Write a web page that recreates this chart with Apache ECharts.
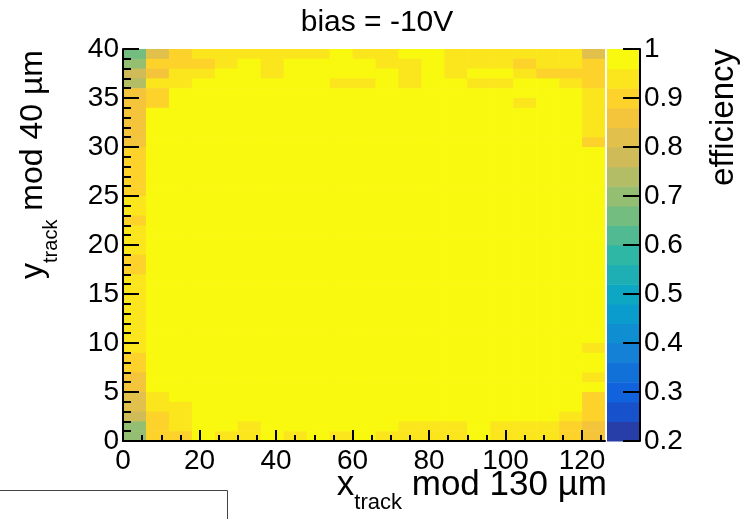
<!DOCTYPE html>
<html>
<head>
<meta charset="utf-8">
<script src="https://cdn.jsdelivr.net/npm/echarts@6/dist/echarts.min.js"></script>
<style>
  html, body { margin: 0; padding: 0; background: #fff; }
  #chart { width: 748px; height: 519px; }
</style>
</head>
<body>
<div id="chart"></div>
<script>
// Lower edges of the x bins (µm) and their width
const xBinLow = [0, 6, 12, 18, 24, 30, 36, 42, 48, 54, 60, 66, 72, 78, 84, 90, 96, 102, 108, 114, 120];
const xBinWidth = 6;
// Lower edges of the y bins (µm), in the same order as the rows below (top row first)
const yBinLow = [39, 38, 37, 36, 35, 34, 33, 32, 31, 30, 29, 28, 27, 26, 25, 24, 23, 22, 21, 20,
                 19, 18, 17, 16, 15, 14, 13, 12, 11, 10, 9, 8, 7, 6, 5, 4, 3, 2, 1, 0];
const yBinWidth = 1;

// Efficiency per cell, one row per y bin
const efficiencyRows = [
  [0.66, 0.80, 0.89, 0.93, 0.94, 0.94, 0.94, 0.93, 0.94, 0.97, 0.94, 0.95, 0.97, 0.98, 0.94, 0.93, 0.94, 0.94, 0.94, 0.93, 0.83],
  [0.70, 0.90, 0.89, 0.90, 0.93, 0.98, 0.94, 0.98, 0.97, 0.98, 0.98, 0.94, 0.93, 0.98, 0.94, 0.93, 0.94, 0.90, 0.94, 0.93, 0.89],
  [0.78, 0.86, 0.94, 0.94, 0.98, 0.98, 0.94, 0.98, 0.98, 0.99, 0.98, 0.98, 0.94, 0.98, 0.94, 0.98, 0.98, 0.94, 0.90, 0.90, 0.90],
  [0.74, 0.94, 0.94, 0.98, 0.98, 0.99, 0.98, 0.98, 0.98, 0.94, 0.94, 0.98, 0.94, 0.98, 0.98, 0.94, 0.94, 0.98, 0.98, 0.94, 0.90],
  [0.86, 0.90, 0.98, 0.99, 0.98, 0.98, 0.99, 0.98, 0.98, 0.98, 0.99, 0.98, 0.98, 0.99, 0.98, 0.98, 0.98, 0.98, 0.99, 0.98, 0.94],
  [0.86, 0.90, 0.98, 0.98, 0.99, 0.98, 0.98, 0.99, 0.98, 0.98, 0.98, 0.99, 0.98, 0.98, 0.98, 0.99, 0.98, 0.94, 0.98, 0.98, 0.94],
  [0.87, 0.97, 0.98, 0.99, 0.98, 0.98, 0.98, 0.99, 0.98, 0.99, 0.98, 0.98, 0.98, 0.99, 0.98, 0.98, 0.99, 0.98, 0.98, 0.98, 0.94],
  [0.87, 0.98, 0.98, 0.98, 0.99, 0.98, 0.99, 0.98, 0.98, 0.98, 0.99, 0.98, 0.99, 0.98, 0.98, 0.98, 0.98, 0.99, 0.98, 0.97, 0.94],
  [0.88, 0.98, 0.99, 0.98, 0.98, 0.98, 0.98, 0.99, 0.99, 0.98, 0.98, 0.98, 0.98, 0.98, 0.99, 0.98, 0.98, 0.98, 0.98, 0.98, 0.94],
  [0.88, 0.98, 0.98, 0.98, 0.99, 0.99, 0.98, 0.98, 0.98, 0.98, 0.98, 0.99, 0.98, 0.98, 0.98, 0.99, 0.98, 0.98, 0.99, 0.98, 0.90],
  [0.89, 0.98, 0.98, 0.99, 0.98, 0.98, 0.98, 0.98, 0.99, 0.98, 0.99, 0.98, 0.98, 0.98, 0.98, 0.98, 0.99, 0.98, 0.98, 0.98, 0.97],
  [0.90, 0.98, 0.99, 0.98, 0.98, 0.98, 0.99, 0.98, 0.98, 0.98, 0.98, 0.98, 0.99, 0.98, 0.98, 0.98, 0.98, 0.98, 0.98, 0.99, 0.98],
  [0.90, 0.97, 0.98, 0.98, 0.98, 0.99, 0.98, 0.98, 0.98, 0.99, 0.98, 0.98, 0.98, 0.98, 0.99, 0.98, 0.98, 0.99, 0.98, 0.98, 0.98],
  [0.90, 0.98, 0.98, 0.98, 0.98, 0.98, 0.98, 0.99, 0.98, 0.98, 0.98, 0.99, 0.98, 0.98, 0.98, 0.98, 0.98, 0.98, 0.98, 0.98, 0.97],
  [0.91, 0.98, 0.98, 0.99, 0.98, 0.98, 0.98, 0.98, 0.98, 0.98, 0.99, 0.98, 0.98, 0.98, 0.98, 0.99, 0.98, 0.98, 0.99, 0.98, 0.98],
  [0.93, 0.98, 0.98, 0.98, 0.98, 0.99, 0.98, 0.98, 0.99, 0.98, 0.98, 0.98, 0.98, 0.99, 0.98, 0.98, 0.98, 0.98, 0.98, 0.98, 0.98],
  [0.93, 0.98, 0.99, 0.98, 0.98, 0.98, 0.98, 0.98, 0.98, 0.98, 0.98, 0.98, 0.99, 0.98, 0.98, 0.98, 0.99, 0.98, 0.98, 0.98, 0.97],
  [0.91, 0.98, 0.98, 0.98, 0.99, 0.98, 0.98, 0.99, 0.98, 0.98, 0.98, 0.98, 0.98, 0.98, 0.98, 0.98, 0.98, 0.98, 0.99, 0.98, 0.98],
  [0.93, 0.98, 0.98, 0.98, 0.98, 0.98, 0.99, 0.98, 0.98, 0.99, 0.98, 0.98, 0.98, 0.98, 0.99, 0.98, 0.98, 0.98, 0.98, 0.98, 0.98],
  [0.93, 0.98, 0.98, 0.99, 0.98, 0.98, 0.98, 0.98, 0.98, 0.98, 0.98, 0.99, 0.98, 0.98, 0.98, 0.98, 0.98, 0.99, 0.98, 0.98, 0.98],
  [0.94, 0.99, 0.98, 0.98, 0.98, 0.98, 0.98, 0.98, 0.99, 0.98, 0.98, 0.98, 0.98, 0.98, 0.98, 0.99, 0.98, 0.98, 0.98, 0.98, 0.97],
  [0.90, 0.98, 0.98, 0.98, 0.98, 0.99, 0.98, 0.98, 0.98, 0.98, 0.99, 0.98, 0.98, 0.98, 0.98, 0.98, 0.98, 0.98, 0.99, 0.98, 0.98],
  [0.90, 0.98, 0.99, 0.98, 0.98, 0.98, 0.98, 0.99, 0.98, 0.98, 0.98, 0.98, 0.99, 0.98, 0.98, 0.98, 0.98, 0.98, 0.98, 0.98, 0.98],
  [0.93, 0.98, 0.98, 0.98, 0.99, 0.98, 0.98, 0.98, 0.98, 0.99, 0.98, 0.98, 0.98, 0.98, 0.99, 0.98, 0.98, 0.98, 0.98, 0.99, 0.98],
  [0.94, 0.98, 0.98, 0.98, 0.98, 0.98, 0.99, 0.98, 0.98, 0.98, 0.98, 0.99, 0.98, 0.98, 0.98, 0.98, 0.99, 0.98, 0.98, 0.98, 0.97],
  [0.93, 0.99, 0.98, 0.98, 0.98, 0.98, 0.98, 0.98, 0.99, 0.98, 0.98, 0.98, 0.98, 0.99, 0.98, 0.98, 0.98, 0.98, 0.98, 0.98, 0.98],
  [0.94, 0.98, 0.98, 0.99, 0.98, 0.98, 0.98, 0.98, 0.98, 0.98, 0.99, 0.98, 0.98, 0.98, 0.98, 0.98, 0.98, 0.99, 0.98, 0.98, 0.98],
  [0.93, 0.98, 0.98, 0.98, 0.98, 0.99, 0.98, 0.98, 0.98, 0.98, 0.98, 0.98, 0.99, 0.98, 0.98, 0.98, 0.98, 0.98, 0.98, 0.99, 0.97],
  [0.94, 0.98, 0.99, 0.98, 0.98, 0.98, 0.98, 0.99, 0.98, 0.98, 0.98, 0.98, 0.98, 0.98, 0.99, 0.98, 0.98, 0.98, 0.98, 0.98, 0.98],
  [0.93, 0.98, 0.98, 0.98, 0.99, 0.98, 0.98, 0.98, 0.98, 0.99, 0.98, 0.98, 0.98, 0.98, 0.98, 0.99, 0.98, 0.98, 0.98, 0.98, 0.97],
  [0.94, 0.98, 0.98, 0.98, 0.98, 0.98, 0.99, 0.98, 0.98, 0.98, 0.98, 0.99, 0.98, 0.98, 0.98, 0.98, 0.98, 0.99, 0.98, 0.98, 0.94],
  [0.90, 0.98, 0.98, 0.99, 0.98, 0.98, 0.98, 0.98, 0.99, 0.98, 0.98, 0.98, 0.98, 0.99, 0.98, 0.98, 0.98, 0.98, 0.98, 0.98, 0.97],
  [0.90, 0.98, 0.98, 0.98, 0.98, 0.99, 0.98, 0.98, 0.98, 0.98, 0.99, 0.98, 0.98, 0.98, 0.98, 0.98, 0.99, 0.98, 0.98, 0.98, 0.98],
  [0.86, 0.98, 0.99, 0.98, 0.98, 0.98, 0.98, 0.99, 0.98, 0.98, 0.98, 0.98, 0.99, 0.98, 0.98, 0.98, 0.98, 0.98, 0.99, 0.98, 0.94],
  [0.86, 0.97, 0.98, 0.98, 0.99, 0.98, 0.98, 0.98, 0.98, 0.99, 0.98, 0.98, 0.98, 0.98, 0.99, 0.98, 0.98, 0.98, 0.98, 0.97, 0.97],
  [0.82, 0.94, 0.97, 0.98, 0.98, 0.98, 0.99, 0.98, 0.98, 0.98, 0.98, 0.99, 0.98, 0.98, 0.98, 0.98, 0.98, 0.99, 0.98, 0.97, 0.90],
  [0.82, 0.94, 0.94, 0.98, 0.98, 0.98, 0.98, 0.98, 0.99, 0.98, 0.98, 0.98, 0.98, 0.99, 0.98, 0.98, 0.98, 0.98, 0.98, 0.97, 0.90],
  [0.78, 0.90, 0.94, 0.97, 0.98, 0.98, 0.98, 0.98, 0.98, 0.98, 0.99, 0.98, 0.98, 0.98, 0.98, 0.98, 0.98, 0.97, 0.97, 0.94, 0.90],
  [0.70, 0.90, 0.94, 0.98, 0.98, 0.94, 0.98, 0.98, 0.98, 0.98, 0.98, 0.98, 0.94, 0.94, 0.94, 0.98, 0.94, 0.94, 0.94, 0.90, 0.86],
  [0.70, 0.89, 0.90, 0.97, 0.94, 0.94, 0.98, 0.94, 0.98, 0.94, 0.98, 0.94, 0.94, 0.94, 0.94, 0.97, 0.94, 0.94, 0.94, 0.90, 0.85]
];

// Axis ticks and colour scale
const xTickValues = [0, 20, 40, 60, 80, 100, 120];
const yTickValues = [0, 5, 10, 15, 20, 25, 30, 35, 40];
const zTickValues = [0.2, 0.3, 0.4, 0.5, 0.6, 0.7, 0.8, 0.9, 1.0];
const xRange = [0, 126];
const yRange = [0, 40];
const zRange = [0.2, 1.0];
const nContours = 20;

// "Bird" colour palette (gradient stops)
const birdStops = [0.0, 0.125, 0.25, 0.375, 0.5, 0.625, 0.75, 0.875, 1.0];
const birdR = [0.2082, 0.0592, 0.0780, 0.0232, 0.1802, 0.5301, 0.8186, 0.9956, 0.9764];
const birdG = [0.1664, 0.3599, 0.5041, 0.6419, 0.7178, 0.7492, 0.7328, 0.7862, 0.9832];
const birdB = [0.5293, 0.8684, 0.8385, 0.7914, 0.6425, 0.4662, 0.3499, 0.1968, 0.0539];

function birdColor(pos) {
  pos = Math.max(0, Math.min(1, pos));
  let k = 0;
  while (k < birdStops.length - 2 && pos > birdStops[k + 1]) k++;
  const t = (pos - birdStops[k]) / (birdStops[k + 1] - birdStops[k]);
  const ch = (a) => Math.round(255 * (a[k] + (a[k + 1] - a[k]) * t));
  return 'rgb(' + ch(birdR) + ',' + ch(birdG) + ',' + ch(birdB) + ')';
}
function levelOf(v) {
  const i = Math.floor((v - zRange[0]) / (zRange[1] - zRange[0]) * nContours);
  return Math.max(0, Math.min(nContours - 1, i));
}
function levelColor(i) {
  const idx = Math.floor((i + 0.99) * 255 / nContours);
  return birdColor(idx / 255);
}

// Cell records: [x low edge, y low edge, efficiency]
const cells = [];
efficiencyRows.forEach((row, r) => {
  row.forEach((v, c) => cells.push([xBinLow[c], yBinLow[r], v]));
});

// Colour-bar bands: [low, high, level]
const bands = [];
for (let i = 0; i < nContours; i++) {
  const step = (zRange[1] - zRange[0]) / nContours;
  bands.push([zRange[0] + i * step, zRange[0] + (i + 1) * step, i]);
}

const FONT = "'Liberation Sans', Arial, Helvetica, sans-serif";
const INK = '#000';

const chart = echarts.init(document.getElementById('chart'), null, { renderer: 'canvas' });

const option = {
  animation: false,
  backgroundColor: '#fff',
  grid: [
    { left: 123, top: 49, width: 482, height: 392 },
    { left: 607, top: 49, width: 33, height: 392 }
  ],
  xAxis: [
    {
      gridIndex: 0, type: 'value', min: xRange[0], max: xRange[1], interval: 20, z: 10,
      axisLine: { show: true, onZero: false, lineStyle: { color: INK, width: 2 } },
      axisTick: { show: true, inside: true, length: 11, customValues: xTickValues, lineStyle: { color: INK, width: 2 } },
      minorTick: { show: true, splitNumber: 4, length: 6, lineStyle: { color: INK, width: 2 } },
      axisLabel: { customValues: xTickValues, color: INK, fontFamily: FONT, fontSize: 28, margin: 6 },
      splitLine: { show: false }, minorSplitLine: { show: false }
    },
    { gridIndex: 1, type: 'value', min: 0, max: 1, show: false }
  ],
  yAxis: [
    {
      gridIndex: 0, type: 'value', min: yRange[0], max: yRange[1], interval: 5, z: 10,
      axisLine: { show: true, onZero: false, lineStyle: { color: INK, width: 2 } },
      axisTick: { show: true, inside: true, length: 16, customValues: yTickValues, lineStyle: { color: INK, width: 2 } },
      minorTick: { show: true, splitNumber: 5, length: 8, lineStyle: { color: INK, width: 2 } },
      axisLabel: { customValues: yTickValues, color: INK, fontFamily: FONT, fontSize: 28, margin: 4 },
      splitLine: { show: false }
    },
    {
      gridIndex: 1, type: 'value', min: zRange[0], max: zRange[1], interval: 0.1, position: 'right', z: 10,
      axisLine: { show: true, onZero: false, lineStyle: { color: INK, width: 2 } },
      axisTick: { show: true, inside: true, length: 17, customValues: zTickValues, lineStyle: { color: INK, width: 2 } },
      axisLabel: {
        customValues: zTickValues, color: INK, fontFamily: FONT, fontSize: 28, margin: 4,
        formatter: (v) => (Math.abs(v - 1) < 1e-9 ? '1' : v.toFixed(1))
      },
      splitLine: { show: false }
    }
  ],
  series: [
    {
      type: 'custom', name: 'efficiency', xAxisIndex: 0, yAxisIndex: 0,
      encode: { x: 0, y: 1 }, clip: true, z: 2,
      data: cells,
      renderItem: (params, api) => {
        const x0 = api.value(0), y0 = api.value(1), v = api.value(2);
        const a = api.coord([x0, y0 + yBinWidth]);
        const b = api.coord([x0 + xBinWidth, y0]);
        return {
          type: 'rect',
          shape: { x: a[0], y: a[1], width: b[0] - a[0] + 0.6, height: b[1] - a[1] + 0.6 },
          style: { fill: levelColor(levelOf(v)) }
        };
      }
    },
    {
      type: 'custom', name: 'palette', xAxisIndex: 1, yAxisIndex: 1,
      encode: { y: [0, 1] }, z: 2,
      data: bands,
      renderItem: (params, api) => {
        const a = api.coord([0, api.value(1)]);
        const b = api.coord([1, api.value(0)]);
        return {
          type: 'rect',
          shape: { x: a[0], y: a[1], width: b[0] - a[0], height: b[1] - a[1] + 0.6 },
          style: { fill: levelColor(api.value(2)) }
        };
      }
    }
  ],
  graphic: [
    {
      type: 'text', x: 377, y: 23,
      style: { text: 'bias = -10V', fill: INK, fontFamily: FONT, fontSize: 30, align: 'center', verticalAlign: 'middle' }
    },
    {
      type: 'text', x: 607, y: 485,
      style: {
        text: '{m|x}{s|track}{m| mod 130 µm}', align: 'right', verticalAlign: 'middle', fill: INK,
        rich: {
          m: { fontFamily: FONT, fontSize: 35, lineHeight: 58, fill: INK },
          s: { fontFamily: FONT, fontSize: 22, lineHeight: 22, verticalAlign: 'bottom', fill: INK }
        }
      }
    },
    {
      type: 'text', x: 33, y: 50, rotation: Math.PI / 2,
      style: {
        text: '{m|y}{s|track}{m| mod 40 µm}', align: 'right', verticalAlign: 'middle', fill: INK,
        rich: {
          m: { fontFamily: FONT, fontSize: 32, lineHeight: 56, fill: INK },
          s: { fontFamily: FONT, fontSize: 20, lineHeight: 22, verticalAlign: 'bottom', fill: INK }
        }
      }
    },
    {
      type: 'text', x: 724, y: 49, rotation: Math.PI / 2,
      style: { text: 'efficiency', fill: INK, fontFamily: FONT, fontSize: 33, align: 'right', verticalAlign: 'middle' }
    },
    {
      type: 'polyline',
      shape: { points: [[0, 490.5], [227.5, 490.5], [227.5, 519]] },
      style: { stroke: '#444', lineWidth: 1, fill: null }
    }
  ]
};

chart.setOption(option);
</script>
</body>
</html>
